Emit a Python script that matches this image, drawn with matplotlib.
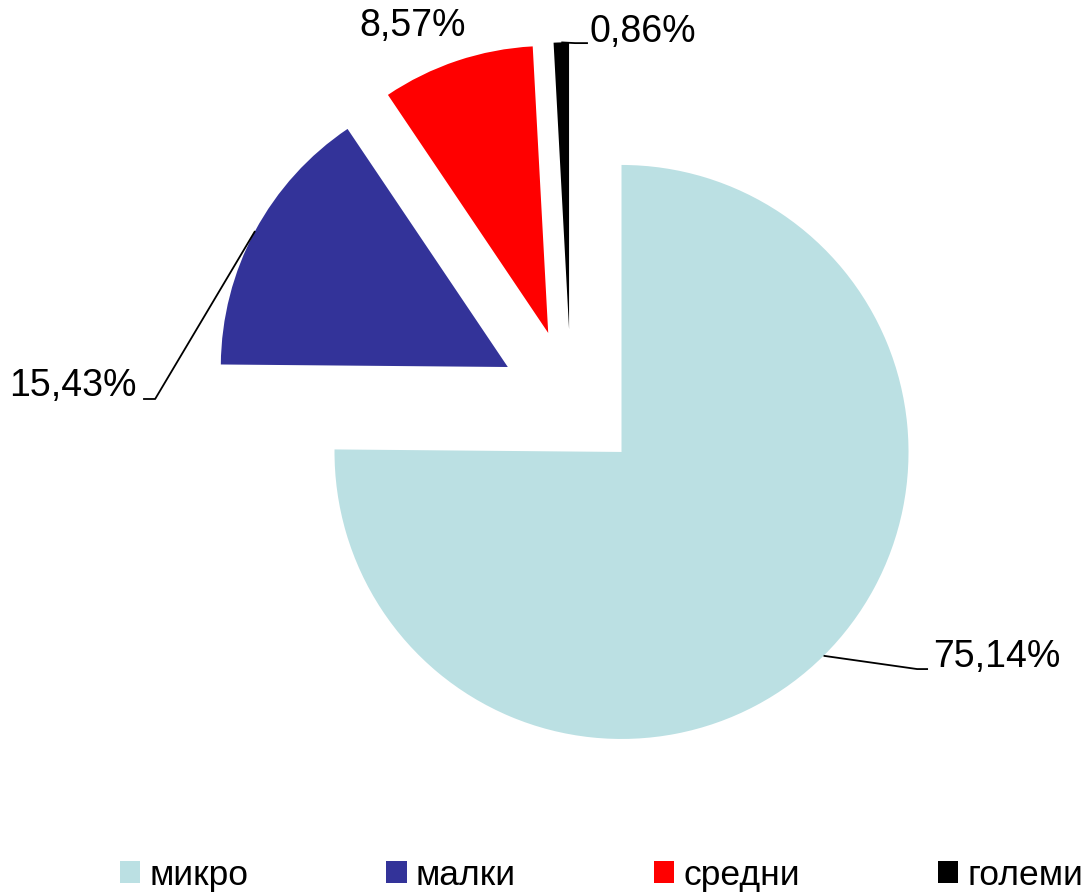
import numpy as np
import matplotlib.pyplot as plt
from matplotlib.patches import Patch

plt.rcParams['font.family'] = ['Liberation Sans', 'DejaVu Sans']

categories = ['микро', 'малки', 'средни', 'големи']
shares = [75.14, 15.43, 8.57, 0.86]
labels = ['75,14%', '15,43%', '8,57%', '0,86%']
colors = ['#BBE0E3', '#333399', '#FF0000', '#000000']

explode = 0.25
# label layout: (elbow, line end, text pos, ha) in data units, None = no leader
label_layout = [
    ((1.206, -0.934), (1.244, -0.934), (1.261, -0.892), 'left'),
    ((-1.449, 0.007), (-1.491, 0.007), (-1.512, 0.052), 'right'),
    (None, None, (-0.551, 1.307), 'center'),
    ((0.014, 1.247), (0.059, 1.247), (0.066, 1.286), 'left'),
]

fig = plt.figure(figsize=(10.9, 8.94), dpi=100)
ax = fig.add_axes([0, 0, 1, 1])

wedges, _ = ax.pie(shares, colors=colors, startangle=90, counterclock=False,
                   explode=[explode] * len(shares),
                   wedgeprops=dict(linewidth=0))

ax.set_xlim(-571 / 287, 519 / 287)
ax.set_ylim(-493 / 287, 401 / 287)
ax.set_aspect('equal')
ax.axis('off')

for w, lab, (elbow, end, tpos, ha) in zip(wedges, labels, label_layout):
    mid = np.deg2rad((w.theta1 + w.theta2) / 2)
    cx, cy = w.center
    ax_pt = (cx + np.cos(mid), cy + np.sin(mid))
    if elbow is not None:
        ax.plot([ax_pt[0], elbow[0], end[0]], [ax_pt[1], elbow[1], end[1]],
                color='black', lw=1.3, solid_capstyle='butt')
    ax.text(tpos[0], tpos[1], lab, fontsize=27, ha=ha, va='center')

handles = [Patch(facecolor=c, edgecolor='none') for c in colors]
fig.legend(handles, categories, loc='center', bbox_to_anchor=(0.552, 0.021),
           ncol=4, frameon=False, fontsize=25.5, handlelength=0.57,
           handleheight=0.57, handletextpad=0.26, columnspacing=3.9)

fig.savefig('out.png', dpi=100)
